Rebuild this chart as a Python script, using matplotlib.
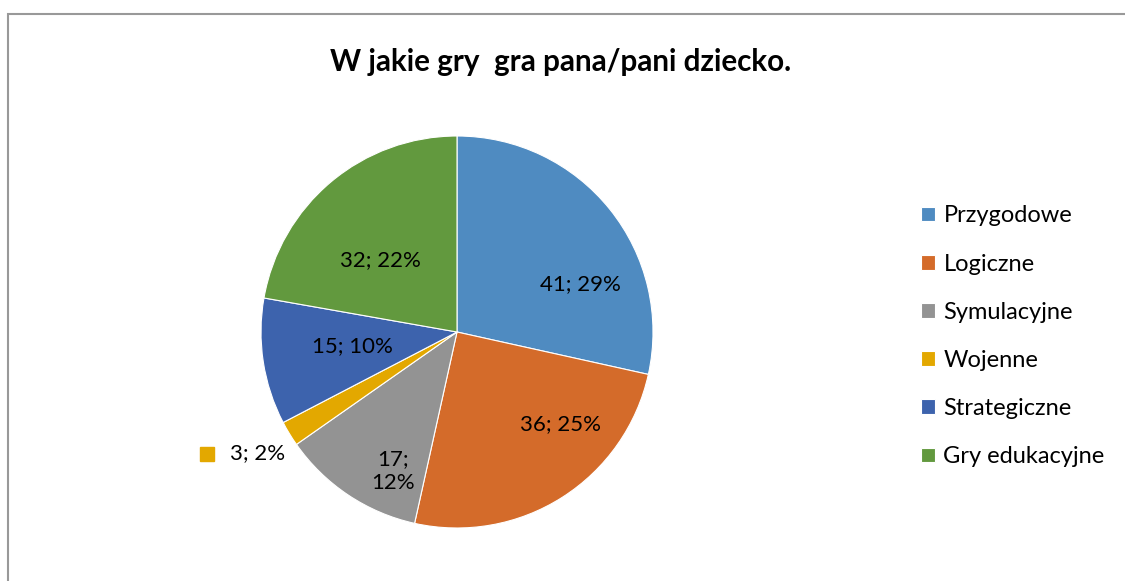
import numpy as np
import matplotlib.pyplot as plt
from matplotlib.patches import Rectangle

plt.rcParams['font.family'] = ['Lato', 'DejaVu Sans']

# Data
categories = ['Przygodowe', 'Logiczne', 'Symulacyjne', 'Wojenne', 'Strategiczne', 'Gry edukacyjne']
counts = [41, 36, 17, 3, 15, 32]
colors = ['#4f8bc1', '#d46b2a', '#939393', '#e3a800', '#3d63ad', '#62993e']
title = 'W jakie gry  gra pana/pani dziecko.'

W, H = 1125, 581
fig = plt.figure(figsize=(W / 100, H / 100), dpi=100)

# pie centre and radius in pixels
cx, cy, R = 457, 332, 196
ax = fig.add_axes([0, 0, 1, 1])

wedges, _ = ax.pie(counts, colors=colors, startangle=90, counterclock=False,
                   wedgeprops=dict(edgecolor='white', linewidth=0.8))
ax.set_xlim(-cx / R, (W - cx) / R)
ax.set_ylim((cy - H) / R, cy / R)

# percentages rounded so they add up to 100 (like Excel)
raw = 100 * np.array(counts) / sum(counts)
pcts = np.floor(raw).astype(int)
rest = 100 - pcts.sum()
for j in np.argsort(-(raw - pcts))[:rest]:
    pcts[j] += 1

# label positions (in pie radius units) as Excel placed them
label_pos = [(0.628, 0.245), (0.526, -0.469), (-0.327, -0.709),
             (-1.02, -0.62), (-0.536, -0.071), (-0.393, 0.367)]
for i, (n, (x, y)) in enumerate(zip(counts, label_pos)):
    txt = f'{n}; {pcts[i]}%'
    if categories[i] == 'Symulacyjne':
        txt = f'{n};\n{pcts[i]}%'
    ax.text(x, y, txt, ha='center', va='center', fontsize=16, color='black',
            linespacing=1.2)
    if i == 3:
        # legend key shown next to the outside label
        ax.plot([x - 0.255], [y], marker='s', markersize=10, color=colors[i],
                linestyle='none')

ax.legend(wedges, categories, loc='upper left', bbox_to_anchor=(912 / W, 1 - 196 / H),
          frameon=False, fontsize=17, handlelength=0.58, handleheight=0.58,
          handletextpad=0.35, labelspacing=1.15, borderaxespad=0)

fig.text(561 / W, 1 - 62 / H, title, ha='center', va='center', fontsize=21.3,
         fontweight='bold')

fig.patches.append(Rectangle((7.5 / W, -0.1), 1.2, 1.1 - 14 / H, transform=fig.transFigure,
                             fill=False, edgecolor='#999999', linewidth=1.5))

fig.savefig('out.png', dpi=100)
